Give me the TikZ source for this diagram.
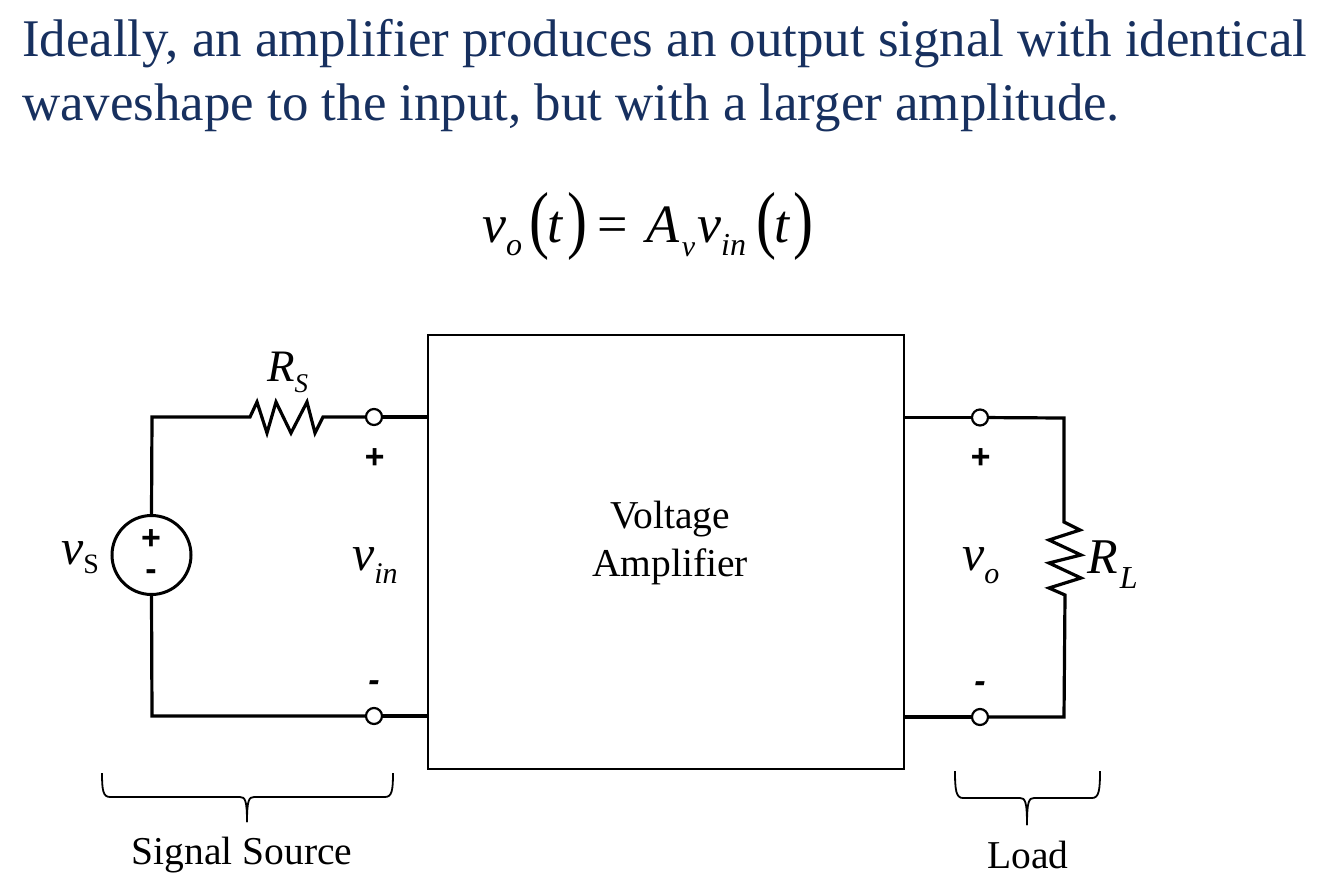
\documentclass[tikz,border=0pt]{standalone}
\usepackage{fontspec}
\setmainfont{Liberation Serif}
\newfontfamily\polarfont{Liberation Sans}
\usepackage{xcolor}
\usetikzlibrary{positioning}
\definecolor{titleblue}{HTML}{17305F}
\newcommand{\fsz}[1]{\fontsize{#1}{#1}\selectfont}
\newcommand{\subvar}[2]{\textit{#1}\raisebox{-13pt}{\fsz{30}\textit{#2}}}
\newcommand{\tallparen}[1]{\kern-2.5pt\raisebox{-2pt}{\resizebox*{20pt}{68pt}{\fsz{50}\textup{#1}}}\kern-2.5pt}

\begin{document}
\begin{tikzpicture}[x=1pt, y=-1pt,
    wire/.style={line width=3.2pt},
    bracket/.style={line width=1.8pt},
    terminal/.style={draw, circle, line width=2.2pt, fill=white, minimum size=16pt, inner sep=0pt},
    polarity/.style={inner sep=0pt, anchor=base, font=\fsz{34}\polarfont\bfseries\itshape},
    caption/.style={inner sep=0pt, anchor=base, font=\fsz{39.5}},
    symb/.style={inner sep=0pt, anchor=base west, font=\fsz{50}},
    titleline/.style={inner sep=0pt, anchor=base west, text=titleblue, font=\fsz{52.9}}]
    \useasboundingbox (0,0) rectangle (1322,892);

    \node (titleA) [titleline] at (22,56) {Ideally, an amplifier produces an output signal with identical};
    \node (titleB) [titleline] at (22,120) {waveshape to the input, but with a larger amplitude.};
    \node (gainEq) [symb, font=\fsz{54}] at (482,242) {\textit{v}\raisebox{-13pt}{\fsz{32}\textit{o}}\kern10pt\tallparen{(}\textit{t}\kern7pt\tallparen{)}\kern12pt=\kern19pt\textit{A}\kern2pt\raisebox{-14pt}{\fsz{30}\textit{v}}\kern2pt\textit{v}\raisebox{-13pt}{\fsz{32}\textit{in}}\kern13pt\tallparen{(}\textit{t}\kern6pt\tallparen{)}};

    \node (amp) [draw, rectangle, line width=2.8pt, minimum width=476pt, minimum height=434pt, inner sep=0pt] at (666,552) {};
    \node (ampText) [caption, anchor=center, align=center] at (670,543) {Voltage\\[9pt]Amplifier};

    \node (vsrc) [draw, circle, line width=3pt, minimum size=79pt, inner sep=0pt] at (151.5,555) {};
    \node (vsrcPlus) [polarity, font=\fsz{34}\polarfont\bfseries] at (151,549) {+};
    \node (vsrcMinus) [polarity, font=\fsz{34}\polarfont\bfseries] at (151,580) {-};
    \node (vsrcName) [symb] at (61,564) {\textit{v}\raisebox{-9pt}{\fsz{28}S}};

    \coordinate (cornerTL) at (152,417);
    \coordinate (cornerBL) at (152,716);
    \coordinate (rsLeft) at (229,417);
    \node (inTop) [terminal] at (374,417) {};
    \node (inBot) [terminal] at (374,716) {};
    \node (inPlus) [polarity] at (374,468) {+};
    \node (inMinus) [polarity] at (374,691) {-};
    \node (vinName) [symb] at (352,570) {\subvar{v}{in}};
    \node (rsName) [symb, font=\fsz{45}] at (267,381) {\textit{R}\raisebox{-11pt}{\fsz{27}\textit{S}}};

    \node (outTop) [terminal] at (980,417.5) {};
    \node (outBot) [terminal] at (980,717) {};
    \node (outPlus) [polarity] at (980,468) {+};
    \node (outMinus) [polarity] at (980,692) {-};
    \node (voName) [symb] at (962,570) {\subvar{v}{o}};
    \node (rlName) [symb] at (1087,573) {\textit{R}\kern2pt\raisebox{-15pt}{\fsz{32}\textit{L}}};
    \coordinate (cornerTR) at (1064,418);
    \coordinate (cornerBR) at (1064,717);
    \coordinate (rlTop) at (1064,500);

    % source side
    \draw[wire] (vsrc.north) -- (cornerTL) -- (rsLeft) -- ++(21,0) -- ++(7,-15) -- ++(10,31) -- ++(9,-31) -- ++(15,31) -- ++(16,-31) -- ++(8,31) -- ++(8,-16) -- (inTop);
    \draw[wire] (vsrc.south) -- (cornerBL) -- (inBot);
    \draw[wire] (inTop) -- (amp.west |- inTop);
    \draw[wire] (inBot) -- (amp.west |- inBot);

    % load side
    \draw[wire] (amp.east |- outTop) -- (outTop);
    \draw[wire] (amp.east |- outBot) -- (outBot);
    \draw[wire] (outTop) -- (cornerTR) -- (rlTop) -- ++(0,22) -- ++(16,8) -- ++(-31,10) -- ++(32,15) -- ++(-32,8) -- ++(32,15) -- ++(-32,10) -- ++(16,7) -- (cornerBR) -- (outBot);

    % braces
    \coordinate (braceAl) at (102,773);
    \coordinate (braceAr) at (393,773);
    \coordinate (braceAm) at (247,822);
    \coordinate (braceBl) at (955,771);
    \coordinate (braceBr) at (1100,771);
    \coordinate (braceBm) at (1027,825);
    \draw[bracket] (braceAl) .. controls (102,790) and (103,797) .. (110,797) -- (240,797) .. controls (245,797) and (247,800) .. (braceAm);
    \draw[bracket] (braceAr) .. controls (393,790) and (392,797) .. (385,797) -- (254,797) .. controls (249,797) and (247,800) .. (braceAm);
    \draw[bracket] (braceBl) .. controls (955,790) and (956,798) .. (963,798) -- (1020,798) .. controls (1025,798) and (1027,801) .. (braceBm);
    \draw[bracket] (braceBr) .. controls (1100,790) and (1099,798) .. (1092,798) -- (1034,798) .. controls (1029,798) and (1027,801) .. (braceBm);

    \node (sourceText) [caption] at (242,864) {Signal Source};
    \node (loadText) [caption] at (1028,868) {Load};
\end{tikzpicture}
\end{document}
